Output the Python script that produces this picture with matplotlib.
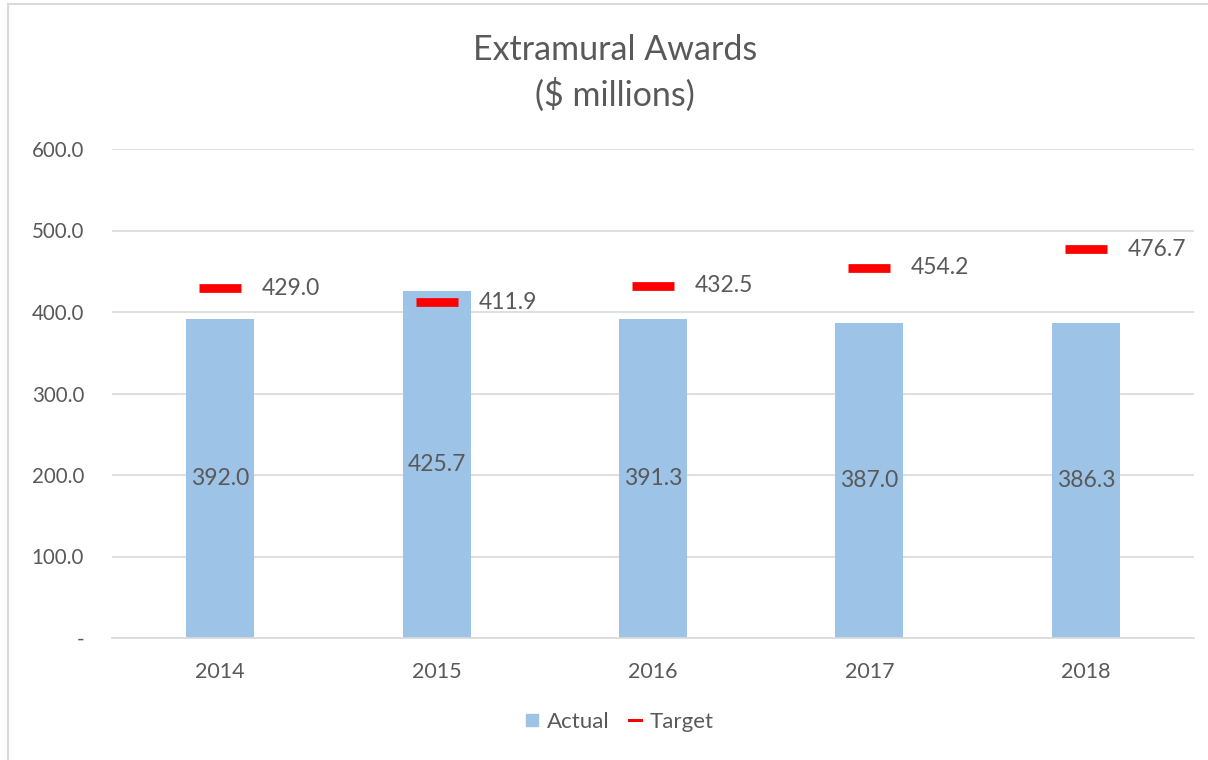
import matplotlib.pyplot as plt
import numpy as np
from matplotlib.lines import Line2D
from matplotlib.patches import Rectangle

years = ['2014', '2015', '2016', '2017', '2018']
actual = [392.0, 425.7, 391.3, 387.0, 386.3]
target = [429.0, 411.9, 432.5, 454.2, 476.7]

plt.rcParams['font.family'] = ['Lato', 'DejaVu Sans']
txt = '#595959'
bar_color = '#9DC3E6'

W, H = 1208, 760
fig = plt.figure(figsize=(W / 100, H / 100), dpi=100)
fig.patches.append(Rectangle((8 / W, -0.1), 1.2, 1 - 4 / H + 0.1, transform=fig.transFigure,
                             fill=False, edgecolor='#d9d9d9', lw=1.5))
ax = fig.add_axes([112 / W, (H - 638) / H, (1194 - 112) / W, (638 - 149) / H])

x = np.arange(len(years))
ax.bar(x, actual, width=0.315, color=bar_color, zorder=2)
ax.plot(x, target, linestyle='none', marker='_', markersize=30, markeredgewidth=6.3,
        color='#FF0000', zorder=3)

# data labels
for xi, v in zip(x, actual):
    ax.text(xi, v / 2, f'{v:.1f}', ha='center', va='center', fontsize=16.5, color=txt, zorder=4)
for xi, v in zip(x, target):
    ax.text(xi + 0.193, v, f'{v:.1f}', ha='left', va='center', fontsize=16.5, color=txt, zorder=4)

ax.set_xlim(-0.5, 4.5)
ax.set_ylim(0, 600)
ax.set_xticks(x)
ax.set_xticklabels(years)
ax.set_yticks(np.arange(0, 601, 100))
ax.set_yticklabels(['-'] + [f'{v:.1f}' for v in range(100, 601, 100)])
ax.tick_params(axis='x', length=0, labelsize=15.5, colors=txt, pad=17)
ax.tick_params(axis='y', length=0, labelsize=14.8, colors=txt, pad=20)
ax.grid(axis='y', color='#d9d9d9', lw=1.2, zorder=0)
for s in ['top', 'right', 'left']:
    ax.spines[s].set_visible(False)
ax.spines['bottom'].set_color('#d9d9d9')
ax.spines['bottom'].set_linewidth(1.2)

fig.text(615 / W, 1 - 50 / H, 'Extramural Awards', ha='center', va='center', fontsize=24.5, color=txt)
fig.text(615 / W, 1 - 95 / H, '($ millions)', ha='center', va='center', fontsize=24.5, color=txt)

handles = [Line2D([], [], marker='s', color=bar_color, linestyle='none', markersize=9),
           Line2D([], [], color='#FF0000', lw=2.2)]
fig.legend(handles, ['Actual', 'Target'], loc='center', bbox_to_anchor=(620 / W, 1 - 722 / H),
           ncol=2, frameon=False, fontsize=16, labelcolor=txt, handlelength=0.55,
           handletextpad=0.4, columnspacing=0.85)

fig.savefig('out.png', dpi=100)
